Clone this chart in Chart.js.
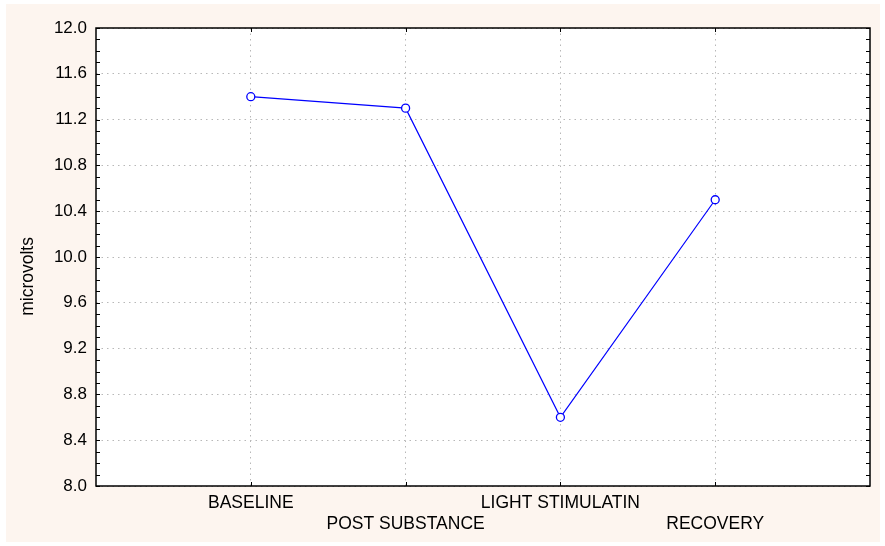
<!DOCTYPE html>
<html>
<head>
<meta charset="utf-8">
<script src="https://cdn.jsdelivr.net/npm/chart.js@4"></script>
<style>
  html, body { margin: 0; padding: 0; background: #fff; }
  #wrap { position: absolute; left: 6px; top: 4px; width: 874px; height: 538px; background: #fdf5ef; }
  canvas { position: absolute; left: 0; top: 0; }
</style>
</head>
<body>
<div id="wrap"></div>
<canvas id="chart" width="885" height="546"></canvas>
<script>
const categories = ['BASELINE', 'POST SUBSTANCE', 'LIGHT STIMULATIN', 'RECOVERY'];
const categoryPos = [1, 2, 3, 4];
const values = [11.4, 11.3, 8.6, 10.5];
const yMin = 8.0, yMax = 12.0, yStep = 0.4, yMinorStep = 0.1;

// black frame plus small inward ticks on all four sides
const framePlugin = {
    id: 'frame',
    afterDraw(chart) {
        const { ctx, chartArea: a, scales } = chart;
        ctx.save();
        ctx.strokeStyle = '#000';
        ctx.lineWidth = 1;
        ctx.beginPath();
        const n = Math.round((yMax - yMin) / yMinorStep);
        for (let i = 0; i <= n; i++) {
            const y = Math.round(scales.y.getPixelForValue(yMin + i * yMinorStep)) + 0.5;
            ctx.moveTo(a.left, y); ctx.lineTo(a.left + 4, y);
            ctx.moveTo(a.right, y); ctx.lineTo(a.right - 4, y);
        }
        categoryPos.forEach(p => {
            const x = Math.round(scales.x.getPixelForValue(p)) + 0.5;
            ctx.moveTo(x, a.bottom); ctx.lineTo(x, a.bottom - 4);
            ctx.moveTo(x, a.top); ctx.lineTo(x, a.top + 4);
        });
        ctx.stroke();
        ctx.lineWidth = 1.5;
        ctx.strokeRect(a.left, a.top, a.right - a.left, a.bottom - a.top);
        ctx.restore();
    }
};

const plotBg = {
    id: 'plotBg',
    beforeDraw(chart) {
        const { ctx, chartArea: a } = chart;
        ctx.save();
        ctx.fillStyle = '#fff';
        ctx.fillRect(a.left, a.top, a.right - a.left, a.bottom - a.top);
        ctx.restore();
    }
};

Chart.defaults.font.family = 'Arial, "Liberation Sans", sans-serif';
Chart.defaults.color = '#000';

new Chart(document.getElementById('chart'), {
    type: 'line',
    data: {
        datasets: [{
            data: categoryPos.map((x, i) => ({ x, y: values[i] })),
            borderColor: '#0000ff',
            borderWidth: 1.2,
            backgroundColor: '#fff',
            pointRadius: 4,
            pointBorderWidth: 1.3,
            pointBorderColor: '#0000ff',
            pointBackgroundColor: '#fff',
            tension: 0
        }]
    },
    options: {
        responsive: false,
        animation: false,
        events: [],
        layout: { padding: { left: 10, top: 28, right: 15, bottom: 0 } },
        plugins: { legend: { display: false }, tooltip: { enabled: false } },
        scales: {
            x: {
                type: 'linear',
                min: 0,
                max: 5,
                afterBuildTicks: s => { s.ticks = categoryPos.map(v => ({ value: v })); },
                afterFit: s => { s.height = 60; },
                grid: { color: '#b8b8b8', drawTicks: false },
                border: { display: false, dash: [1.5, 4] },
                ticks: {
                    autoSkip: false,
                    maxRotation: 0,
                    padding: 7,
                    font: { size: 17.5, lineHeight: 1.2 },
                    callback: v => {
                        const i = categoryPos.indexOf(v);
                        if (i < 0) return '';
                        return i % 2 === 0 ? [categories[i], ''] : ['', categories[i]];
                    }
                }
            },
            y: {
                min: yMin,
                max: yMax,
                afterFit: s => { s.width = 86; },
                grid: { color: '#b8b8b8', drawTicks: false },
                border: { display: false, dash: [1.5, 4] },
                ticks: {
                    stepSize: yStep,
                    padding: 9,
                    font: { size: 17 },
                    callback: v => v.toFixed(1)
                },
                title: {
                    display: true,
                    // trailing spaces nudge the label a little lower, as in the original
                    text: 'microvolts\u00a0\u00a0\u00a0\u00a0\u00a0\u00a0\u00a0\u00a0',
                    font: { size: 17.5 },
                    padding: { top: 8, bottom: 0 }
                }
            }
        }
    },
    plugins: [plotBg, framePlugin]
});
</script>
</body>
</html>
